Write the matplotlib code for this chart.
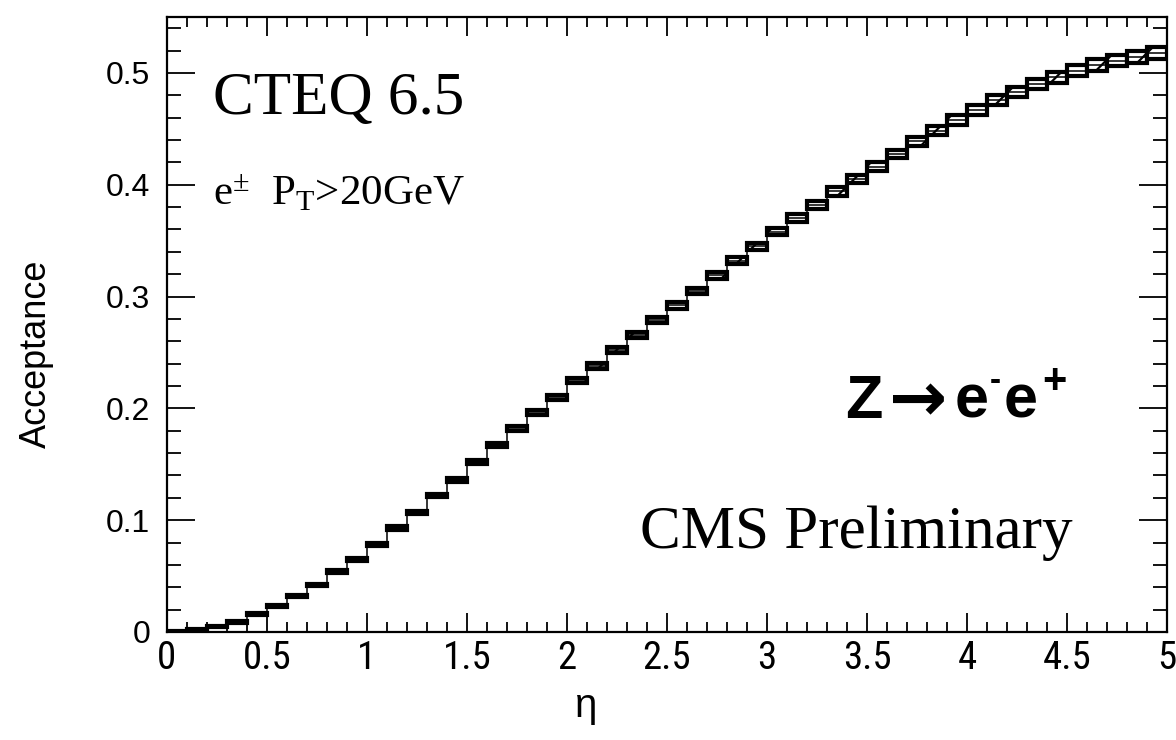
import matplotlib
matplotlib.use("Agg")
import matplotlib.pyplot as plt
import numpy as np
from matplotlib import font_manager
from matplotlib.ticker import MultipleLocator, FuncFormatter

# Z -> ee acceptance vs. |eta| cut, 50 bins of 0.1 between 0 and 5
ETA_MIN, ETA_MAX, N_BINS = 0.0, 5.0, 50

acceptance = [
    0.001, 0.002, 0.005, 0.009, 0.016, 0.023, 0.032, 0.042, 0.054, 0.065,
    0.078, 0.093, 0.107, 0.122, 0.136, 0.152, 0.167, 0.182, 0.196, 0.210,
    0.225, 0.238, 0.252, 0.266, 0.279, 0.292, 0.305, 0.319, 0.332, 0.345,
    0.358, 0.370, 0.382, 0.394, 0.405, 0.416, 0.4275, 0.439, 0.4485, 0.458,
    0.467, 0.476, 0.483, 0.490, 0.496, 0.502, 0.507, 0.511, 0.514, 0.5175,
]

# PDF uncertainty (half width of the band)
pdf_err = [
    0.0003, 0.0004, 0.0005, 0.0006, 0.0007, 0.0008, 0.0009, 0.0010, 0.0011, 0.0012,
    0.0013, 0.0014, 0.0015, 0.0016, 0.0017, 0.0018, 0.0019, 0.0020, 0.0021, 0.0022,
    0.0023, 0.0024, 0.0025, 0.0027, 0.0028, 0.0029, 0.0030, 0.0031, 0.0032, 0.0033,
    0.0034, 0.0035, 0.0036, 0.0037, 0.0038, 0.0039, 0.0040, 0.0041, 0.0042, 0.0044,
    0.0045, 0.0046, 0.0047, 0.0048, 0.0049, 0.0050, 0.0051, 0.0052, 0.0053, 0.0054,
]

names = {f.name for f in font_manager.fontManager.ttflist}
SANS = "Liberation Sans"
SERIF = "Liberation Serif"
NARROW = SANS
for cand in ("Liberation Sans Narrow", "Arial Narrow", "Roboto Condensed"):
    if cand in names:
        NARROW = cand
        break

plt.rcParams["mathtext.fontset"] = "custom"
plt.rcParams["mathtext.rm"] = SERIF
plt.rcParams["mathtext.it"] = SERIF + ":italic"
plt.rcParams["mathtext.bf"] = SANS + ":bold"
plt.rcParams["hatch.linewidth"] = 1.6


def main() -> None:
    acc = np.asarray(acceptance)
    err = np.asarray(pdf_err)
    edges = np.linspace(ETA_MIN, ETA_MAX, N_BINS + 1)
    width = edges[1] - edges[0]

    fig = plt.figure(figsize=(11.76, 7.4), dpi=100)
    ax = fig.add_axes([0.142, 0.146, 0.8503, 0.831])

    # hatched uncertainty boxes + central histogram
    ax.bar(edges[:-1], 2 * err, width=width, bottom=acc - err, align="edge",
           facecolor="white", edgecolor="black", hatch="/", linewidth=3.0,
           zorder=2)
    ax.stairs(acc, edges, color="black", linewidth=1.1, zorder=3)

    ax.set_xlim(ETA_MIN, ETA_MAX)
    ax.set_ylim(0, 0.55)

    ax.xaxis.set_major_locator(MultipleLocator(0.5))
    ax.xaxis.set_minor_locator(MultipleLocator(0.1))
    ax.yaxis.set_major_locator(MultipleLocator(0.1))
    ax.yaxis.set_minor_locator(MultipleLocator(0.02))
    fmt = FuncFormatter(lambda v, _: f"{v:g}")
    ax.xaxis.set_major_formatter(fmt)
    ax.yaxis.set_major_formatter(fmt)

    ax.tick_params(which="both", direction="in", top=True, right=True,
                   width=1.3, color="black")
    ax.tick_params(axis="x", which="major", length=14, pad=6)
    ax.tick_params(axis="x", which="minor", length=7)
    ax.tick_params(axis="y", which="major", length=20, pad=12)
    ax.tick_params(axis="y", which="minor", length=10)
    for lab in ax.get_xticklabels():
        lab.set_fontfamily(NARROW)
        lab.set_fontsize(28 if NARROW != SANS else 25)
    for lab in ax.get_yticklabels():
        lab.set_fontfamily(SANS)
        lab.set_fontsize(23)

    for sp in ax.spines.values():
        sp.set_linewidth(1.6)

    fig.text(36 / 1176, 1 - 354 / 740, "Acceptance", rotation=90,
             ha="center", va="center", fontsize=26, family=SANS)
    fig.text(586 / 1176, 1 - 706 / 740, "η", ha="center", va="center",
             fontsize=29, family=SANS)

    ax.text(0.23, 0.463, "CTEQ 6.5", fontsize=44, family=SERIF,
            va="baseline")
    ax.text(0.23, 0.382, r"e$^{\pm}$  P$_{\mathrm{T}}$>20GeV", fontsize=31,
            family=SERIF, va="baseline")
    ax.text(2.365, 0.075, "CMS Preliminary", fontsize=44, family=SERIF,
            va="baseline")

    # Z -> e- e+ built from chained pieces
    bold = dict(fontweight="bold", va="bottom")
    z = ax.text(3.39, 0.1916, "Z", fontsize=44, family=SANS,
                fontweight="bold", va="baseline")
    arrow = ax.annotate("→", xy=(1, 0), xycoords=z, xytext=(5, -3),
                        textcoords="offset points", fontsize=50,
                        family="DejaVu Sans", **bold)
    e1 = ax.annotate("e", xy=(1, 0), xycoords=(arrow, z), xytext=(5, 0),
                     textcoords="offset points", fontsize=44, family=SANS,
                     **bold)
    sup_m = ax.annotate("-", xy=(1, 0), xycoords=(e1, z), xytext=(1, 24),
                        textcoords="offset points", fontsize=24, family=SANS,
                        **bold)
    e2 = ax.annotate("e", xy=(1, 0), xycoords=(sup_m, z), xytext=(2, 0),
                     textcoords="offset points", fontsize=44, family=SANS,
                     **bold)
    ax.annotate("+", xy=(1, 0), xycoords=(e2, z), xytext=(3, 21),
                textcoords="offset points", fontsize=30, family=SANS, **bold)

    fig.savefig("out.png", dpi=100)


if __name__ == "__main__":
    main()
